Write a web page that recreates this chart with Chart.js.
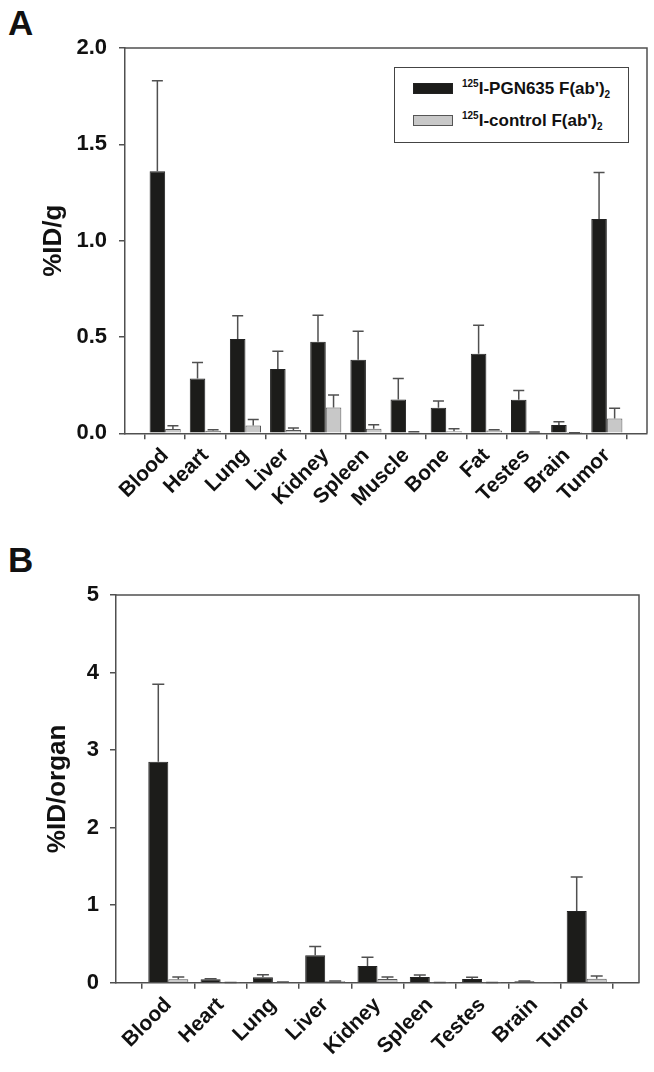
<!DOCTYPE html>
<html>
<head>
<meta charset="utf-8">
<script src="https://cdn.jsdelivr.net/npm/chart.js@4"></script>
<style>
  html, body { margin:0; padding:0; background:#fff; }
  body { width:654px; height:1072px; position:relative; overflow:hidden;
         font-family:"Liberation Sans", Arial, sans-serif; }
  canvas { position:absolute; left:0; }
  #cA { top:0; }
  #cB { top:540px; }
  .plabel { position:absolute; left:8px; font-weight:bold; font-size:35px; line-height:35px; color:#111; }
  #legend { position:absolute; left:394px; top:67px; width:235px; height:76px; box-sizing:border-box;
            border:1.5px solid #444; background:#fff; }
  .sw { position:absolute; left:18px; width:40px; height:11px; box-sizing:border-box; }
  .lt { position:absolute; left:67px; font-weight:bold; font-size:17px; line-height:17px; color:#111; white-space:nowrap; }
  .lt sup { font-size:10px; vertical-align:7px; line-height:0; }
  .lt sub { font-size:10px; vertical-align:-4px; line-height:0; }
</style>
</head>
<body>
<div class="plabel" style="top:5px;">A</div>
<div class="plabel" style="top:542px;">B</div>
<canvas id="cA" width="654" height="535"></canvas>
<canvas id="cB" width="654" height="532"></canvas>
<div id="legend">
  <div class="sw" style="top:15px;background:#1c1c1a;border:1px solid #222;"></div>
  <div class="lt" style="top:12px;"><sup>125</sup>I-PGN635 F(ab')<sub>2</sub></div>
  <div class="sw" style="top:47px;background:#c8c8c8;border:1px solid #555;"></div>
  <div class="lt" style="top:44px;"><sup>125</sup>I-control F(ab')<sub>2</sub></div>
</div>
<script>
// ---------- Panel A data (%ID/g) ----------
const catsA = ['Blood','Heart','Lung','Liver','Kidney','Spleen','Muscle','Bone','Fat','Testes','Brain','Tumor'];
const pgnA = [1.36, 0.284, 0.49, 0.334, 0.475, 0.382, 0.176, 0.133, 0.413, 0.174, 0.043, 1.112];
const pgnAErr = [0.47, 0.083, 0.12, 0.092, 0.138, 0.148, 0.109, 0.035, 0.148, 0.048, 0.017, 0.242];
const ctrlA = [0.022, 0.013, 0.041, 0.017, 0.134, 0.024, 0.006, 0.011, 0.015, 0.005, 0.002, 0.077];
const ctrlAErr = [0.017, 0.005, 0.031, 0.011, 0.065, 0.02, 0.002, 0.012, 0.004, 0.002, 0.001, 0.053];
const yTicksA = [0, 0.5, 1.0, 1.5, 2.0];

// ---------- Panel B data (%ID/organ) ----------
const catsB = ['Blood','Heart','Lung','Liver','Kidney','Spleen','Testes','Brain','Tumor'];
const pgnB = [2.85, 0.045, 0.069, 0.355, 0.215, 0.075, 0.047, 0.018, 0.924];
const pgnBErr = [1.0, 0.007, 0.034, 0.112, 0.112, 0.024, 0.022, 0.003, 0.44];
const ctrlB = [0.043, 0.003, 0.007, 0.018, 0.047, 0.003, 0.003, 0.001, 0.05];
const ctrlBErr = [0.032, 0.001, 0.001, 0.004, 0.026, 0.001, 0.001, 0.0, 0.035];
const yTicksB = [0, 1, 2, 3, 4, 5];

const seriesNames = ["125I-PGN635 F(ab')2", "125I-control F(ab')2"];

const FONT = '"Liberation Sans", Arial, sans-serif';
const AXC = '#505050';

const framePlugin = {
  id: 'frame',
  afterDraw(chart) {
    const a = chart.chartArea, c = chart.ctx;
    c.save();
    c.strokeStyle = AXC; c.lineWidth = 1.5;
    c.beginPath();
    c.moveTo(a.left, a.top); c.lineTo(a.right, a.top); c.lineTo(a.right, a.bottom);
    c.stroke();
    c.restore();
  }
};

const errPlugin = {
  id: 'errbars',
  afterDatasetsDraw(chart, args, opts) {
    const c = chart.ctx, ys = chart.scales.y;
    c.save();
    c.strokeStyle = '#505050'; c.lineWidth = 1.5;
    chart.data.datasets.forEach((ds, di) => {
      const meta = chart.getDatasetMeta(di);
      meta.data.forEach((el, i) => {
        const v = ds.data[i].y, e = ds.errors[i];
        if (!e) return;
        const yTop = ys.getPixelForValue(v + e);
        const yBar = ys.getPixelForValue(v);
        const half = opts.cap / 2;
        c.beginPath();
        c.moveTo(el.x, yBar); c.lineTo(el.x, yTop);
        c.moveTo(el.x - half, yTop); c.lineTo(el.x + half, yTop);
        c.stroke();
      });
    });
    c.restore();
  }
};

function makeChart(id, cats, s1, e1, s2, e2, yTicks, yMax, yTitle, cfg) {
  const pts = (arr) => arr.map((v, i) => ({x: i, y: v}));
  return new Chart(document.getElementById(id), {
    type: 'bar',
    data: {
      datasets: [
        {label: seriesNames[0], data: pts(s1), errors: e1, backgroundColor: '#1c1c1a', borderColor: '#222', borderWidth: 1,
         categoryPercentage: cfg.catPct, barPercentage: 1.0},
        {label: seriesNames[1], data: pts(s2), errors: e2, backgroundColor: '#c8c8c8', borderColor: '#555', borderWidth: 1,
         categoryPercentage: cfg.catPct, barPercentage: 1.0}
      ]
    },
    options: {
      responsive: false, animation: false, devicePixelRatio: 1,
      layout: {padding: {left: 0, top: cfg.top, right: cfg.right, bottom: 0}},
      plugins: {legend: {display: false}, tooltip: {enabled: false}, errbars: {cap: cfg.cap}},
      scales: {
        x: {
          type: 'linear', min: -1, max: cats.length, offset: false,
          afterBuildTicks: (s) => { s.ticks = cats.map((_, i) => ({value: i})); },
          afterFit: (s) => { s.height = cfg.xh; },
          ticks: {autoSkip: false, maxRotation: 45, minRotation: 45, padding: 4,
                  callback: (v) => cats[v] !== undefined ? cats[v] : '',
                  font: {family: FONT, size: 21, weight: 'bold'}, color: '#111'},
          grid: {drawOnChartArea: false, drawTicks: true, tickLength: 6, color: AXC, lineWidth: 1.5},
          border: {display: true, color: AXC, width: 1.5}
        },
        y: {
          min: 0, max: yMax,
          afterBuildTicks: (s) => { s.ticks = yTicks.map(v => ({value: v})); },
          afterFit: (s) => { s.width = cfg.left; },
          ticks: {padding: cfg.tpad, callback: (v) => cfg.fmt(v),
                  font: {family: FONT, size: 22, weight: 'bold'}, color: '#111'},
          grid: {drawOnChartArea: false, drawTicks: true, tickLength: 6, color: AXC, lineWidth: 1.5},
          border: {display: true, color: AXC, width: 1.5},
          title: {display: true, text: yTitle, color: '#111', padding: {top: cfg.tTop, bottom: 0},
                  font: {family: FONT, size: 26, weight: 'bold'}}
        }
      }
    },
    plugins: [framePlugin, errPlugin]
  });
}

makeChart('cA', catsA, pgnA, pgnAErr, ctrlA, ctrlAErr, yTicksA, 2.0, '%ID/g',
  {catPct: 0.775, top: 48, right: 7, left: 125, xh: 535 - 433.3, cap: 11, tpad: 12, tTop: 38,
   fmt: (v) => v.toFixed(1)});
makeChart('cB', catsB, pgnB, pgnBErr, ctrlB, ctrlBErr, yTicksB, 5, '%ID/organ',
  {catPct: 0.765, top: 55, right: 15, left: 116, xh: 532 - 442.7, cap: 12, tpad: 11, tTop: 42,
   fmt: (v) => String(v)});
</script>
</body>
</html>
